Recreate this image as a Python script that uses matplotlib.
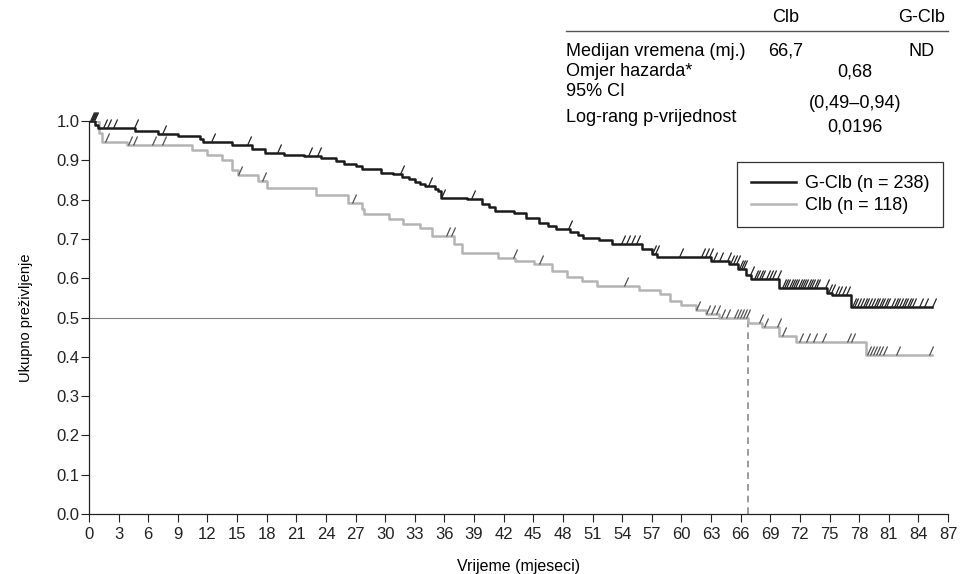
import numpy as np
import matplotlib
matplotlib.use("Agg")
import matplotlib.pyplot as plt
from matplotlib.path import Path
from matplotlib.lines import Line2D

plt.rcParams['font.family'] = ['Liberation Sans', 'DejaVu Sans']
plt.rcParams['font.size'] = 11

# G-Clb (n = 238): step times (months) and survival
gclb_t = [0, 0.6, 0.9, 4.7, 7.0, 9.0, 11.2, 11.5, 14.5, 16.5, 17.8, 19.8, 21.8,
          23.5, 25.0, 25.8, 27.0, 27.6, 29.6, 30.8, 31.7, 32.4, 33.0, 33.5,
          34.0, 35.0, 35.3, 35.7, 38.3, 39.8, 40.5, 41.1, 43.0, 44.3, 45.6,
          46.5, 47.3, 48.7, 49.5, 50.0, 51.7, 53.0, 56.0, 57.0, 57.5, 63.0,
          64.8, 65.7, 66.5, 67.0, 69.9, 74.7, 75.3, 77.2, 85.4]
gclb_s = [1.0, 0.99, 0.982, 0.975, 0.967, 0.962, 0.954, 0.947, 0.939, 0.93,
          0.919, 0.914, 0.911, 0.905, 0.898, 0.891, 0.885, 0.878, 0.868, 0.865,
          0.858, 0.853, 0.846, 0.84, 0.835, 0.828, 0.822, 0.805, 0.802, 0.789,
          0.78, 0.772, 0.765, 0.754, 0.741, 0.733, 0.726, 0.718, 0.71, 0.703,
          0.698, 0.688, 0.675, 0.662, 0.655, 0.645, 0.637, 0.624, 0.607, 0.599,
          0.576, 0.563, 0.556, 0.527, 0.527]
gclb_cens = [0.1, 0.2, 0.3, 0.4, 0.5, 1.4, 1.8, 2.4, 4.6, 7.4, 12.4, 16.0, 19.0,
             22.2, 23.1, 31.5, 34.3, 35.7, 38.7, 48.5, 53.9, 54.4, 54.9, 55.4,
             57.0, 57.3, 59.8, 62.0, 62.4, 62.8, 63.2, 63.8, 64.6, 64.9, 65.2,
             65.5, 65.8, 66.0, 66.2, 66.9, 67.4, 67.6, 67.9, 68.1, 68.6, 68.9,
             69.2, 69.7, 70.2, 70.4, 70.6, 70.9, 71.1, 71.3, 71.5, 71.8, 72.0,
             72.2, 72.4, 72.7, 72.9, 73.1, 73.4, 73.6, 74.5, 74.8, 75.2, 75.6,
             75.9, 76.3, 76.7, 77.3, 77.5, 77.8, 78.1, 78.4, 78.6, 78.9, 79.2,
             79.5, 79.7, 80.0, 80.2, 80.5, 80.7, 81.2, 81.5, 81.7, 82.0, 82.3,
             82.5, 82.8, 83.1, 83.4, 84.1, 84.6, 85.4]

# Clb (n = 118)
clb_t = [0, 1.0, 1.3, 3.8, 10.4, 12.0, 13.5, 14.5, 15.1, 17.1, 18.0, 23.0,
         26.2, 27.6, 27.9, 30.4, 31.8, 33.5, 34.7, 37.0, 37.8, 41.4, 43.1,
         45.1, 46.9, 48.4, 49.9, 51.4, 55.7, 57.8, 58.8, 60.0, 61.5, 62.5,
         63.8, 66.7, 68.2, 69.9, 71.6, 78.7, 85.4]
clb_s = [1.0, 0.97, 0.947, 0.938, 0.926, 0.914, 0.90, 0.876, 0.863, 0.847,
         0.83, 0.812, 0.792, 0.777, 0.764, 0.751, 0.739, 0.728, 0.708, 0.688,
         0.665, 0.652, 0.645, 0.637, 0.619, 0.604, 0.594, 0.581, 0.571, 0.561,
         0.543, 0.533, 0.518, 0.51, 0.50, 0.487, 0.475, 0.454, 0.437, 0.404,
         0.404]
clb_cens = [1.6, 3.9, 4.5, 6.4, 7.4, 15.1, 17.5, 26.6, 36.2, 36.7, 42.9, 45.6,
            54.2, 61.5, 62.5, 63.0, 63.5, 64.0, 64.5, 65.3, 65.6, 65.9, 66.2,
            66.5, 67.9, 68.4, 69.7, 70.2, 71.9, 72.6, 73.3, 74.2, 76.8, 77.2,
            78.8, 79.1, 79.4, 79.7, 80.0, 80.4, 81.7, 85.1]

median_clb = 66.7
xticks = list(range(0, 88, 3))
yticks = [0.0, 0.1, 0.2, 0.3, 0.4, 0.5, 0.6, 0.7, 0.8, 0.9, 1.0]


def surv_at(times, surv, cens):
    idx = np.searchsorted(times, cens, side='right') - 1
    return np.array(surv)[idx]


tick_marker = Path([(0, 0), (0.45, 1)], [Path.MOVETO, Path.LINETO])

fig = plt.figure(figsize=(9.61, 5.74), dpi=100)
ax = fig.add_axes([89 / 961, 60 / 574, 859 / 961, 393 / 574])

# reference lines at median
ax.plot([0, median_clb], [0.5, 0.5], color='#808080', lw=0.8, zorder=1)
ax.plot([median_clb, median_clb], [0, 0.5], color='#8a8a8a', lw=1.2,
        ls=(0, (4, 3)), zorder=1)

ax.step(clb_t, clb_s, where='post', color='#b4b4b4', lw=1.8, zorder=2,
        label='Clb (n = 118)')
ax.step(gclb_t, gclb_s, where='post', color='#1a1a1a', lw=1.8, zorder=3,
        label='G-Clb (n = 238)')

ax.plot(clb_cens, surv_at(clb_t, clb_s, clb_cens), ls='none', marker=tick_marker,
        ms=13, mew=0.9, mec='#505050', zorder=4, clip_on=False)
ax.plot(gclb_cens, surv_at(gclb_t, gclb_s, gclb_cens), ls='none',
        marker=tick_marker, ms=13, mew=0.9, mec='#222222', zorder=5,
        clip_on=False)

ax.set_xlim(0, 87)
ax.set_ylim(0, 1.0)
ax.set_xticks(xticks)
ax.set_yticks(yticks)
ax.set_yticklabels([f"{v:.1f}" for v in yticks], fontsize=12)
ax.set_xticklabels([str(v) for v in xticks], fontsize=12)
ax.tick_params(direction='out', length=6, width=0.8, colors='#222222')
ax.tick_params(axis='y', pad=1)
ax.spines['top'].set_visible(False)
ax.spines['right'].set_visible(False)
for s in ['left', 'bottom']:
    ax.spines[s].set_color('#222222')
    ax.spines[s].set_linewidth(0.9)

ax.set_xlabel("Vrijeme (mjeseci)", fontsize=11.5, labelpad=12)
ax.set_ylabel("Ukupno preživljenje", fontsize=10.5, labelpad=17)

handles = [Line2D([], [], color='#1a1a1a', lw=1.8),
           Line2D([], [], color='#b4b4b4', lw=1.8)]
leg = ax.legend(handles, ['G-Clb (n = 238)', 'Clb (n = 118)'],
                loc='upper right', bbox_to_anchor=(0.994, 0.896),
                borderaxespad=0, fancybox=False, edgecolor='#333333',
                framealpha=1, handlelength=2.5, handletextpad=0.5,
                fontsize=13, labelspacing=0.25, borderpad=0.75)
leg.get_frame().set_linewidth(0.9)

# summary table (top right)
def fx(px):
    return px / 961


def fy(py):
    return 1 - py / 574


tsize = 13
fig.text(fx(786), fy(18), "Clb", ha='center', va='center', fontsize=tsize)
fig.text(fx(922), fy(18), "G-Clb", ha='center', va='center', fontsize=tsize)
fig.add_artist(Line2D([fx(566), fx(948)], [fy(31), fy(31)], color='#555555',
                      lw=1.0, transform=fig.transFigure))
fig.text(fx(566), fy(51), "Medijan vremena (mj.)", ha='left', va='center',
         fontsize=tsize)
fig.text(fx(786), fy(51), "66,7", ha='center', va='center', fontsize=tsize)
fig.text(fx(922), fy(51), "ND", ha='center', va='center', fontsize=tsize)
fig.text(fx(566), fy(72), "Omjer hazarda*", ha='left', va='center',
         fontsize=tsize)
fig.text(fx(855), fy(72), "0,68", ha='center', va='center', fontsize=tsize)
fig.text(fx(566), fy(91), "95% CI", ha='left', va='center', fontsize=tsize)
fig.text(fx(855), fy(103), "(0,49–0,94)", ha='center', va='center',
         fontsize=tsize)
fig.text(fx(566), fy(118), "Log-rang p-vrijednost", ha='left', va='center',
         fontsize=tsize)
fig.text(fx(855), fy(127), "0,0196", ha='center', va='center', fontsize=tsize)

fig.savefig("out.png", dpi=100)
